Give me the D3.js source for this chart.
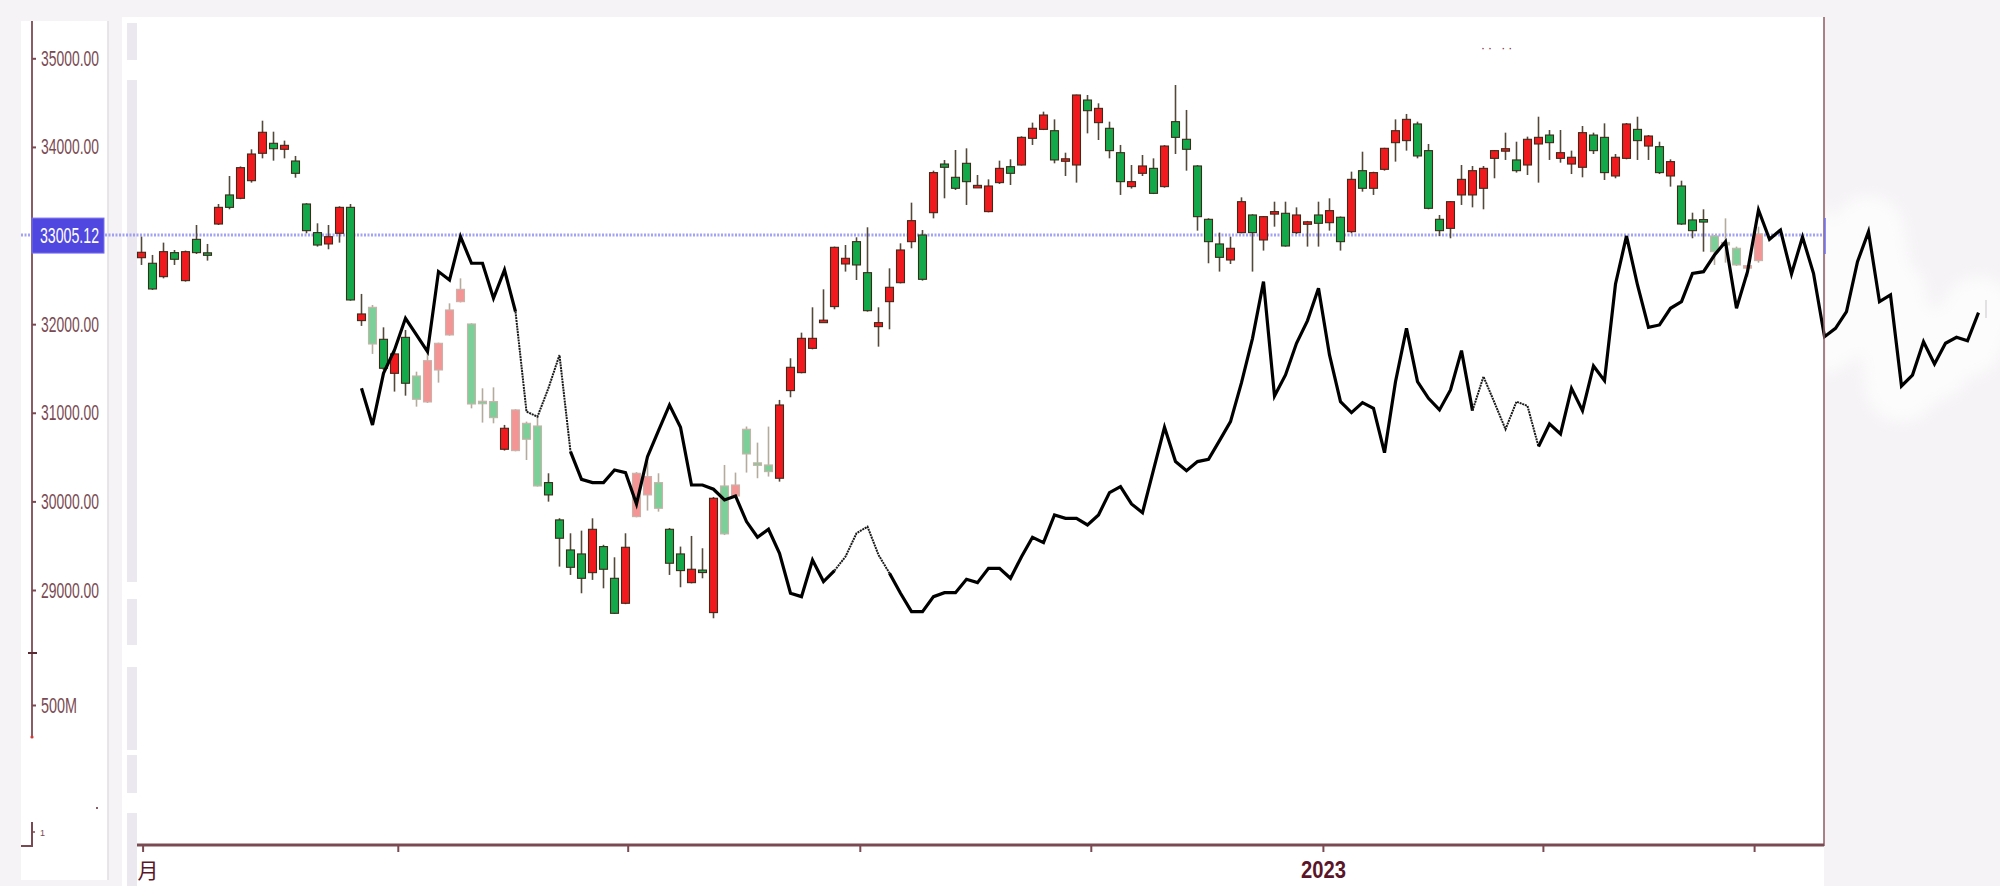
<!DOCTYPE html>
<html>
<head>
<meta charset="utf-8">
<script src="https://cdn.jsdelivr.net/npm/d3@7"></script>
<style>
body { margin: 0; background: #f5f3f5; }
svg { display: block; }
text { font-family: "Liberation Sans Narrow", "Liberation Sans", Arial, sans-serif; }
</style>
</head>
<body>
<div id="chart"></div>
<script>
// daily candles, index 0..147
const opens = [32750,32687,32536,32807,32491,32957,32805,33130,33458,33420,33619,33928,34041,33973,33841,33356,33033,32905,33025,33318,
  32040,32190,31829,31445,31851,31415,31122,31483,31878,32254,32002,31130,31126,30588,30573,30881,30851,30212,29791,29452,
  29407,29196,29490,29132,28850,29828,30073,30212,29685,29407,29083,29225,28745,30174,30061,30814,30435,30411,30261,31250,
  31453,31727,32035,32198,32679,32931,32581,31972,32254,32468,32931,33006,33258,33807,33657,33815,33558,33270,33597,33777,
  33796,34097,34198,34183,33855,33796,34529,34274,34210,33935,33552,33702,33758,33552,34285,34086,33785,33183,32905,32724,
  33033,33232,32950,33262,33251,33033,33145,33232,33145,33206,33044,33732,33533,33747,34048,34071,34259,33958,33183,33081,
  33458,33458,33533,33871,33970,33853,33796,34033,34134,33871,33807,33770,34134,34108,33672,33871,34198,34010,34003,33672,
  33559,33176,33180,32995,32922,32856,32650,32717];
const highs = [32988,32781,32920,32837,32830,33119,32905,33356,33672,33780,33973,34296,34172,34071,33898,33365,33138,33119,33330,33356,
  32341,32216,31964,31701,31934,31464,31671,31791,32235,32517,32010,31276,31287,30863,31040,30900,30956,30317,29810,29640,
  29670,29809,29510,29369,29640,30330,30449,30317,29700,29490,29610,29471,30050,30411,30325,30845,30663,30844,31145,31615,
  31904,32190,32393,32875,32893,32980,33093,32190,32630,32912,33371,33062,33732,33852,33965,33984,33683,33634,33845,33860,
  34120,34274,34398,34311,33935,34590,34586,34492,34285,34022,33796,33909,33871,34020,34699,34417,33795,33195,33033,32987,
  33431,33240,33220,33382,33382,33318,33165,33382,33420,33215,33721,33946,33720,33990,34311,34372,34285,34033,33232,33390,
  33796,33785,33785,33965,34161,34059,34116,34341,34191,34191,33958,34236,34161,34266,33920,34270,34341,34134,34059,33860,
  33619,33258,33296,33006,33194,32875,32668,33100];
const lows = [32668,32386,32517,32668,32480,32792,32717,33119,33296,33410,33597,33871,33845,33871,33653,33025,32875,32845,32920,32265,
  31980,31664,31483,31239,31193,31069,31110,31340,31870,32245,31050,30889,30881,30573,30565,30467,30167,29997,29264,29170,
  28963,29114,29019,28730,28840,29820,29896,29884,29170,29031,29075,29132,28681,29620,30055,30325,30261,30280,30223,31175,
  31445,31716,32029,32168,32593,32498,32141,31746,31942,32460,32856,32491,33194,33420,33514,33345,33550,33262,33582,33570,
  33790,34022,34190,33815,33672,33597,34153,34078,33871,33458,33530,33672,33468,33540,33920,33732,33055,32687,32593,32679,
  33025,32593,32830,33100,32875,33018,32875,32875,33055,32830,33025,33495,33458,33732,33834,33958,33871,33296,32995,32969,
  33345,33318,33296,33646,33853,33710,33683,33597,33853,33822,33694,33657,33920,33627,33646,33860,33853,33853,33694,33552,
  33120,32969,32818,32668,32694,32657,32536,32694];
const closes = [32811,32397,32818,32732,32818,32807,32795,33318,33318,33766,33920,34165,33980,34018,33702,33055,32893,32987,33318,32273,
  32115,31776,31502,31664,31333,31152,31588,31784,32160,32393,31099,31120,30945,30825,31032,30701,30174,30073,29584,29256,
  29132,29685,29234,28737,29482,30317,30280,29922,29302,29219,29234,29215,30035,29633,30185,30535,30425,30336,31088,31513,
  31840,31840,32045,32867,32743,32668,32152,32017,32416,32837,33168,32506,33710,33770,33533,33608,33566,33559,33758,33702,
  34108,34210,34360,33853,33866,34586,34409,34435,33958,33608,33608,33785,33476,34010,34108,33973,33213,32931,32754,32856,
  33382,33033,33213,33270,32882,33232,33155,33138,33281,32931,33634,33533,33710,33984,34183,34311,33898,33307,33055,33382,
  33634,33732,33758,33958,33980,33732,34086,34108,34048,33935,33883,34161,33958,33710,33883,34259,34071,34123,33710,33834,
  33130,33055,33172,32818,32914,32668,32660,33018];

// candles that show washed out in the picture
const fadedIdx = [21,25,26,27,28,29,30,31,32,34,35,36,45,46,47,53,54,55,56,57,143,144,145,146,147];

// overlaid black line, starts at candle index 20
const lineStart = 20;
const lineVals = [31276,30862,31445,31709,32066,31878,31690,32593,32498,32987,32687,32687,32292,32611,32141,31013,30956,31280,31652,30562,
  30249,30212,30212,30355,30325,29971,30505,30798,31088,30836,30185,30185,30137,30016,30061,29772,29595,29685,29414,28963,
  28925,29339,29095,29219,29377,29640,29715,29396,29189,28963,28756,28756,28925,28970,28970,29121,29083,29245,29245,29132,
  29376,29595,29535,29847,29809,29809,29734,29847,30099,30167,29971,29873,30355,30836,30449,30347,30449,30475,30686,30900,
  31340,31840,32480,31190,31427,31784,32040,32405,31652,31126,31002,31114,31050,30550,31351,31953,31351,31163,31032,31257,
  31701,31024,31408,31114,30814,31126,31077,30618,30874,30761,31276,31024,31528,31363,32453,32995,32442,31964,31991,32179,
  32254,32573,32592,32780,32931,32179,32592,33288,32957,33062,32566,32983,32574,31858,31953,32141,32705,33044,32253,32329,
  31302,31426,31802,31550,31784,31852,31813,32130];
// stretches of the line drawn thin and broken
const thinSpans = [[34,39],[63,68],[121,127]];

const priceTicks = [29000,30000,31000,32000,33000,34000,35000];
const lastPrice = 33005.12;
const volTicks = [500];
const dateTicks = [0.1, 23.3, 44.2, 65.3, 86.3, 107.4, 127.4, 146.6];
const dateLabels = ["月", "", "", "", "", "2023", "", ""];

const W = 2000, H = 886;
const AXIS_COL = "#7a4a52";

const svg = d3.select("#chart").append("svg")
  .attr("width", W)
  .attr("height", H);

const defs = svg.append("defs");
defs.append("filter").attr("id", "soft")
  .attr("x", "-30%").attr("y", "-30%").attr("width", "160%").attr("height", "160%")
  .append("feGaussianBlur").attr("stdDeviation", 7);
defs.append("clipPath").attr("id", "outside")
  .append("rect").attr("x", 1826).attr("y", 0).attr("width", 200).attr("height", H);

const x = d3.scaleLinear().domain([0, 147]).range([141.5, 1758.5]);
const y = d3.scaleLinear().domain([29000, 35000]).range([590, 58.3]);
const yVol = d3.scaleLinear().domain([0, 1000]).range([800, 610]);

// panels
svg.append("rect").attr("x", 21).attr("y", 21).attr("width", 87).attr("height", 859).attr("fill", "#fff");
svg.append("line").attr("x1", 108).attr("x2", 108).attr("y1", 21).attr("y2", 880)
   .attr("stroke", "#e2dee2").attr("stroke-width", 1.5);
svg.append("rect").attr("x", 122).attr("y", 17).attr("width", 1702).attr("height", H - 17).attr("fill", "#fff");

[[23,60],[80,582],[599,645],[667,750],[755,793],[813,886]].forEach(s => {
  svg.append("rect").attr("x", 127).attr("y", s[0]).attr("width", 10).attr("height", s[1] - s[0])
     .attr("fill", "#ebe8ef");
});

// pale smear beyond the right edge
const tail = lineVals.map((v, k) => [lineStart + k, v]).filter(p => p[0] >= 149);
svg.append("g").attr("clip-path", "url(#outside)")
  .append("path")
  .attr("d", d3.line().x(p => x(p[0])).y(p => y(p[1]))(tail))
  .attr("fill", "none").attr("stroke", "#fdfcfd").attr("stroke-width", 72)
  .attr("stroke-linecap", "round").attr("stroke-linejoin", "round")
  .attr("filter", "url(#soft)");
svg.append("line").attr("x1", 1986).attr("x2", 1986).attr("y1", 300).attr("y2", 318)
   .attr("stroke", "#c9c6c9").attr("stroke-width", 1);

// last price dotted line
svg.append("line")
  .attr("x1", 21).attr("x2", 1823).attr("y1", y(lastPrice)).attr("y2", y(lastPrice))
  .attr("stroke", "#8c8cf2").attr("stroke-width", 3).attr("stroke-opacity", 0.8)
  .attr("stroke-dasharray", "2,1.5");

// candles
const candles = d3.range(opens.length).map(i => ({
  i: i, o: opens[i], h: highs[i], l: lows[i], c: closes[i], faded: fadedIdx.includes(i)
}));

const cg = svg.append("g").attr("id", "candles");
const cand = cg.selectAll("g").data(candles).enter().append("g");

cand.append("line")
  .attr("x1", d => x(d.i)).attr("x2", d => x(d.i))
  .attr("y1", d => y(d.h)).attr("y2", d => y(d.l))
  .attr("stroke", d => d.faded ? "#b4ab9e" : "#54483a")
  .attr("stroke-width", 1.6);

cand.append("rect")
  .attr("x", d => x(d.i) - 4)
  .attr("width", 8)
  .attr("y", d => y(Math.max(d.o, d.c)))
  .attr("height", d => Math.max(2.5, Math.abs(y(d.o) - y(d.c))))
  .attr("fill", d => {
    const up = d.c >= d.o;
    if (d.faded) return up ? "#f49595" : "#7ccf98";
    return up ? "#f01a1e" : "#13a84a";
  })
  .attr("stroke", d => d.faded ? "#c9b2aa" : "#3d2b1a")
  .attr("stroke-width", 1.1);

// black line, grouped in runs of thick / thin segments
const pts = lineVals.map((v, k) => [lineStart + k, v]);
const isThin = a => thinSpans.some(s => a >= s[0] && a + 1 <= s[1]);
const runs = [];
for (let k = 0; k < pts.length - 1; k++) {
  const thin = isThin(pts[k][0]);
  if (runs.length && runs[runs.length - 1].thin === thin) {
    runs[runs.length - 1].p.push(pts[k + 1]);
  } else {
    runs.push({ thin: thin, p: [pts[k], pts[k + 1]] });
  }
}
const lineGen = d3.line().x(p => x(p[0])).y(p => y(p[1]));
svg.append("g").attr("id", "blackLine")
  .selectAll("path").data(runs).enter().append("path")
  .attr("d", r => lineGen(r.p))
  .attr("fill", "none")
  .attr("stroke", r => r.thin ? "#1a1a1a" : "#000")
  .attr("stroke-width", r => r.thin ? 2 : 3.2)
  .attr("stroke-dasharray", r => r.thin ? "2,0.8" : null)
  .attr("stroke-linejoin", "miter");

// right border and its price marker
svg.append("line").attr("x1", 1824).attr("x2", 1824).attr("y1", 17).attr("y2", 846)
   .attr("stroke", "#8b5a60").attr("stroke-width", 1.5);
svg.append("line").attr("x1", 1825).attr("x2", 1825).attr("y1", 218).attr("y2", 254)
   .attr("stroke", "#6d6df2").attr("stroke-width", 1.5);

// left price axis
svg.append("line").attr("x1", 32).attr("x2", 32).attr("y1", 21).attr("y2", 737)
   .attr("stroke", "#8a5c63").attr("stroke-width", 2);
svg.append("circle").attr("cx", 32).attr("cy", 737).attr("r", 1.6).attr("fill", "#d23a3a");

const yAxis = svg.append("g").attr("transform", "translate(32,0)")
  .call(d3.axisRight(y).tickValues(priceTicks).tickSize(4).tickPadding(5).tickFormat(d => d.toFixed(2)));
yAxis.select(".domain").remove();
yAxis.selectAll("line").attr("stroke", AXIS_COL).attr("stroke-width", 2);
yAxis.selectAll("text")
  .attr("fill", AXIS_COL).attr("font-size", 22)
  .attr("textLength", 58).attr("lengthAdjust", "spacingAndGlyphs");

// volume pane axis
svg.append("line").attr("x1", 28).attr("x2", 37).attr("y1", 653).attr("y2", 653)
   .attr("stroke", "#5a2a32").attr("stroke-width", 2);
const vAxis = svg.append("g").attr("transform", "translate(32,0)")
  .call(d3.axisRight(yVol).tickValues(volTicks).tickSize(4).tickPadding(5).tickFormat(d => d + "M"));
vAxis.select(".domain").remove();
vAxis.selectAll("line").attr("stroke", AXIS_COL).attr("stroke-width", 2);
vAxis.selectAll("text")
  .attr("fill", AXIS_COL).attr("font-size", 22)
  .attr("textLength", 36).attr("lengthAdjust", "spacingAndGlyphs");

// little pane stub at the bottom left
svg.append("path").attr("d", "M21,846H32V822").attr("fill", "none")
   .attr("stroke", AXIS_COL).attr("stroke-width", 2);
svg.append("line").attr("x1", 32).attr("x2", 35).attr("y1", 832).attr("y2", 832)
   .attr("stroke", AXIS_COL).attr("stroke-width", 1.5);
svg.append("text").attr("x", 40).attr("y", 836).attr("font-size", 9).attr("fill", AXIS_COL).text("1");
svg.append("circle").attr("cx", 97).attr("cy", 808).attr("r", 1).attr("fill", "#6a2030");

// last price box
svg.append("rect").attr("x", 32).attr("y", y(lastPrice) - 17).attr("width", 72).attr("height", 35)
   .attr("fill", "#5047e0").attr("stroke", "#7a72ee").attr("stroke-width", 1);
svg.append("text").attr("x", 40).attr("y", y(lastPrice)).attr("dy", "0.35em")
   .attr("fill", "#fff").attr("font-size", 22)
   .attr("textLength", 59).attr("lengthAdjust", "spacingAndGlyphs")
   .text(lastPrice.toFixed(2));

// date axis
svg.append("line").attr("x1", 137).attr("x2", 1824).attr("y1", 845).attr("y2", 845)
   .attr("stroke", AXIS_COL).attr("stroke-width", 3);
const xAxis = svg.append("g").attr("transform", "translate(0,845)")
  .call(d3.axisBottom(x).tickValues(dateTicks).tickSize(7).tickFormat((d, i) => dateLabels[i]));
xAxis.select(".domain").remove();
xAxis.selectAll("line").attr("stroke", AXIS_COL).attr("stroke-width", 2);
xAxis.selectAll("text")
  .attr("y", 33).attr("dy", 0)
  .attr("fill", "#5a1628")
  .each(function(d, i) {
    const t = d3.select(this);
    if (dateLabels[i] === "2023") {
      t.attr("font-size", 24).attr("font-weight", "bold")
       .attr("textLength", 45).attr("lengthAdjust", "spacingAndGlyphs");
    } else {
      t.attr("font-size", 21).attr("dx", 5)
       .style("font-family", "'Noto Sans CJK SC', sans-serif");
    }
  });

// faint remnants of the title
svg.append("text").attr("x", 1481).attr("y", 52).attr("font-size", 12).attr("fill", "#7a2030")
   .attr("letter-spacing", 3).text("·· ··");
</script>
</body>
</html>
